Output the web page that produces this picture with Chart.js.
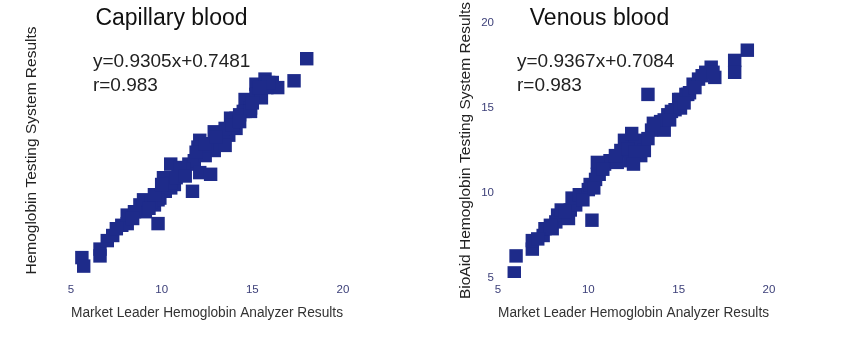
<!DOCTYPE html>
<html>
<head>
<meta charset="utf-8">
<script src="https://cdn.jsdelivr.net/npm/chart.js@4/dist/chart.umd.min.js"></script>
<style>
  html, body { margin: 0; padding: 0; background: #ffffff; }
  #wrap { position: relative; width: 860px; height: 340px; }
  canvas { position: absolute; top: 0; }
</style>
</head>
<body>
<div id="wrap">
  <canvas id="cap" width="430" height="340" style="left:0"></canvas>
  <canvas id="ven" width="430" height="340" style="left:430px"></canvas>
</div>
<script>
// ---- data ----
const titles = ["Capillary blood", "Venous blood"];
const xAxisTitle = "Market Leader Hemoglobin Analyzer Results";
const yAxisTitles = ["Hemoglobin Testing System Results", "BioAid Hemoglobin Testing System Results"];
const tickValues = [5, 10, 15, 20];
const capEquation = ["y=0.9305x+0.7481", "r=0.983"];
const venEquation = ["y=0.9367x+0.7084", "r=0.983"];

const capX = [5.6,5.7,6.6,6.6,7.0,7.3,7.8,8.1,8.1,8.8,9.1,9.0,9.8,9.6,9.9,10.2,10.5,10.7,9.8,10.1,10.5,10.9,10.5,11.7,11.5,11.8,12.1,12.7,12.1,12.0,12.9,13.2,13.7,14.1,13.5,14.1,14.6,18.0,17.3,15.2,15.7,16.1,16.4,14.6,15.2,15.5,14.9,14.5,13.8,14.3,14.9,12.9,13.5,13.9,11.2,12.4,9.4,8.5,15.8,11.0,12.5,7.5,8.4,9.3,9.6,10.0,10.8,11.3,11.9,12.4,13.0,14.3,15.0,15.9,15.4];
const capY = [6.2,5.7,6.7,6.3,7.2,7.5,8.1,8.2,8.7,9.3,8.9,9.6,8.2,9.3,9.7,10.1,10.3,10.5,9.6,10.9,10.6,11.1,11.7,10.1,11.7,11.9,11.2,11.1,13.1,12.7,12.5,13.1,13.4,13.8,12.8,14.4,14.8,17.9,16.6,16.4,16.7,16.5,16.2,15.5,15.8,15.6,15.0,14.8,14.4,14.6,14.8,13.6,13.8,14.0,11.4,12.2,9.5,8.9,16.2,11.5,12.8,7.9,8.5,9.1,9.9,10.5,10.9,11.0,12.4,12.9,13.3,14.2,15.3,16.5,16.2];

const venX = [5.9,6.0,6.9,6.9,7.5,7.6,8.2,8.3,8.0,8.5,9.0,9.3,9.1,8.9,10.2,9.5,10.0,10.4,10.6,10.1,13.3,10.5,10.9,11.2,10.5,11.8,12.0,12.6,12.9,12.3,13.1,11.6,12.4,13.5,14.0,14.4,14.8,14.2,15.1,15.5,18.8,18.1,18.1,16.5,16.8,17.0,15.8,16.1,15.0,15.4,15.6,14.2,14.6,15.1,7.2,7.9,8.7,9.7,10.3,10.8,11.5,12.2,12.6,12.5,13.3,13.6,14.5,15.3,16.3,15.9,16.9];
const venY = [5.3,6.3,6.7,7.2,7.5,7.9,8.3,8.7,7.9,9.0,9.0,9.3,9.7,8.5,8.4,9.9,10.2,10.8,11.1,10.5,15.8,11.1,11.7,11.9,11.8,12.5,13.1,13.1,12.2,11.9,12.5,11.8,13.5,13.7,14.2,14.6,14.9,13.7,15.5,15.8,18.4,17.8,17.1,17.1,17.4,16.8,16.4,16.7,15.5,15.8,15.9,14.3,14.8,15.0,7.3,8.1,8.9,9.6,10.3,11.4,12.2,12.6,12.4,11.7,13.2,14.1,14.3,15.3,16.9,16.2,17.1];

// ---- styling ----
const markerColor = "#1e2b8a";
const tickColor = "#3d4079";
const font = "'Liberation Sans', Arial, sans-serif";
Chart.defaults.font.family = font;

const equationPlugin = {
  id: "equation",
  afterDatasetsDraw(chart, args, opts) {
    const ctx = chart.ctx;
    const xs = chart.scales.x, ys = chart.scales.y;
    ctx.save();
    ctx.font = "19px " + font;
    ctx.fillStyle = "#222222";
    ctx.textAlign = "left";
    ctx.textBaseline = "alphabetic";
    const px = xs.getPixelForValue(opts.x);
    const py = ys.getPixelForValue(opts.y);
    opts.lines.forEach((t, i) => ctx.fillText(t, px, py + i * 24));
    ctx.restore();
  }
};

function makeChart(id, title, yTitle, xs, ys, eq, cfg) {
  const pts = xs.map((v, i) => ({ x: v, y: ys[i] }));
  return new Chart(document.getElementById(id), {
    type: "scatter",
    data: { datasets: [{
      data: pts,
      pointStyle: "rect",
      pointRadius: 9.5,
      pointHoverRadius: 9.5,
      backgroundColor: markerColor,
      borderColor: markerColor,
      borderWidth: 0
    }] },
    options: {
      responsive: false,
      animation: false,
      devicePixelRatio: 1,
      layout: { padding: { left: 0, right: cfg.padRight, top: 0, bottom: 0 } },
      plugins: {
        legend: { display: false },
        tooltip: { enabled: false },
        title: {
          display: true, text: title, color: "#111111",
          font: { size: 23, weight: "normal" },
          padding: { top: 4.5, bottom: -9.1 }
        },
        equation: { lines: eq, x: cfg.eqX, y: 17.41 }
      },
      scales: {
        x: {
          type: "linear", min: 5, max: 20,
          afterBuildTicks: s => { s.ticks = tickValues.map(v => ({ value: v })); },
          grid: { display: false, drawTicks: false },
          border: { display: false },
          ticks: { color: tickColor, font: { size: 11.5 }, padding: 5 },
          title: { display: true, text: xAxisTitle, color: "#333333",
                   font: { size: 15.5 }, padding: { top: 0, bottom: 18 } },
          afterFit: s => { s.height = 62; }
        },
        y: {
          type: "linear", min: 5, max: 20,
          afterBuildTicks: s => { s.ticks = tickValues.map(v => ({ value: v })); },
          grid: { display: false, drawTicks: false },
          border: { display: false },
          ticks: { display: cfg.showYTicks, color: tickColor, font: { size: 11.5 }, padding: 4 },
          title: { display: true, text: yTitle, color: "#222222",
                   font: { size: 15.5 }, padding: { top: cfg.yTitlePad, bottom: 0 } },
          afterFit: s => { s.width = cfg.yWidth; }
        }
      }
    },
    plugins: [equationPlugin]
  });
}

makeChart("cap", titles[0], yAxisTitles[0], capX, capY, capEquation,
  { padRight: 87, yWidth: 71, yTitlePad: 22, showYTicks: false, eqX: 6.21 });
makeChart("ven", titles[1], yAxisTitles[1], venX, venY, venEquation,
  { padRight: 91, yWidth: 68, yTitlePad: 26, showYTicks: true, eqX: 6.05 });
</script>
</body>
</html>
